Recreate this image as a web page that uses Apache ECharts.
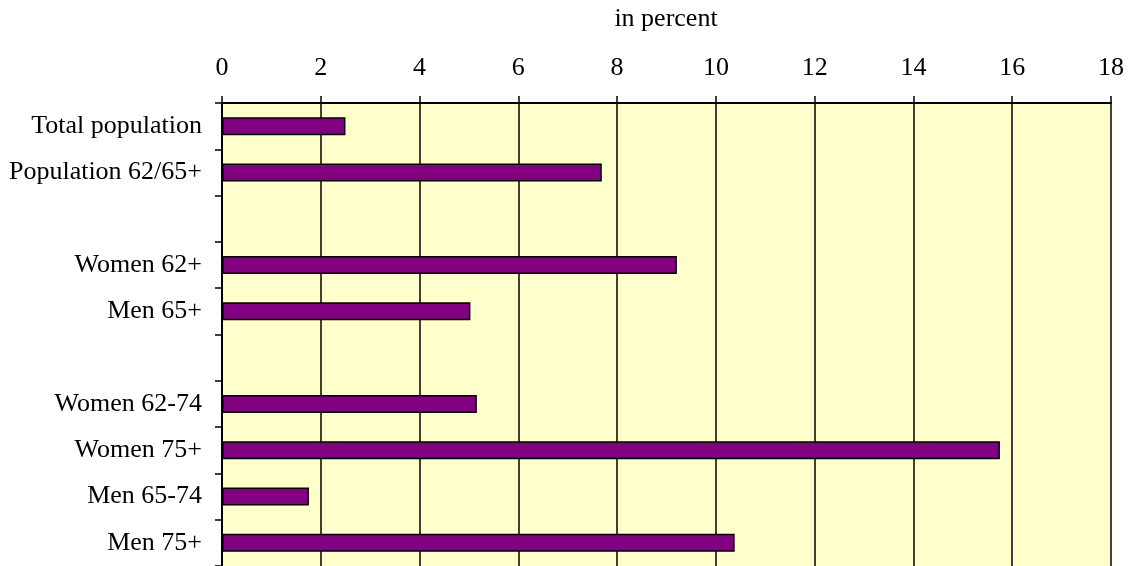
<!DOCTYPE html>
<html>
<head>
<meta charset="utf-8">
<script src="https://cdn.jsdelivr.net/npm/echarts@6/dist/echarts.min.js"></script>
<style>
html,body{margin:0;padding:0;background:#fff;}
#chart{width:1133px;height:566px;}
</style>
</head>
<body>
<div id="chart"></div>
<script>
const categories = ['Total population', 'Population 62/65+', ' ', 'Women 62+', 'Men 65+', '  ', 'Women 62-74', 'Women 75+', 'Men 65-74', 'Men 75+'];
const values = [2.5, 7.69, null, 9.21, 5.03, null, 5.16, 15.75, 1.76, 10.38];
const xTicks = { min: 0, max: 18, interval: 2 };
const axisTitle = 'in percent';

const FONT = '"Liberation Serif", "Times New Roman", serif';
const chart = echarts.init(document.getElementById('chart'), null, { renderer: 'canvas' });
chart.setOption({
  animation: false,
  backgroundColor: '#ffffff',
  graphic: [{
    type: 'text',
    x: 666,
    y: 19,
    style: {
      text: axisTitle,
      font: '26px "Liberation Serif", "Times New Roman", serif',
      fill: '#000',
      textAlign: 'center',
      textVerticalAlign: 'middle',
      verticalAlign: 'middle'
    }
  }],
  grid: {
    left: 222, right: 22, top: 103, height: 467,
    show: true, backgroundColor: '#FFFFCC', borderWidth: 0
  },
  xAxis: {
    type: 'value',
    position: 'top',
    min: xTicks.min, max: xTicks.max, interval: xTicks.interval,
    axisLine: { show: true, lineStyle: { color: '#000', width: 2 } },
    axisTick: { show: true, length: 7, lineStyle: { color: '#000', width: 1.5 } },
    axisLabel: { fontFamily: FONT, fontSize: 26, color: '#000', margin: 22 },
    splitLine: { show: true, lineStyle: { color: '#000', width: 1.5 } }
  },
  yAxis: {
    type: 'category',
    inverse: true,
    data: categories,
    axisLine: { show: true, lineStyle: { color: '#000', width: 2 } },
    axisTick: { show: true, length: 7, lineStyle: { color: '#000', width: 1.5 } },
    axisLabel: { fontFamily: FONT, fontSize: 26, color: '#000', margin: 20 },
    splitLine: { show: false }
  },
  series: [{
    type: 'bar',
    data: values,
    barWidth: 18,
    itemStyle: { color: '#800080', borderColor: '#000', borderWidth: 1.5 }
  }]
});
</script>
</body>
</html>
